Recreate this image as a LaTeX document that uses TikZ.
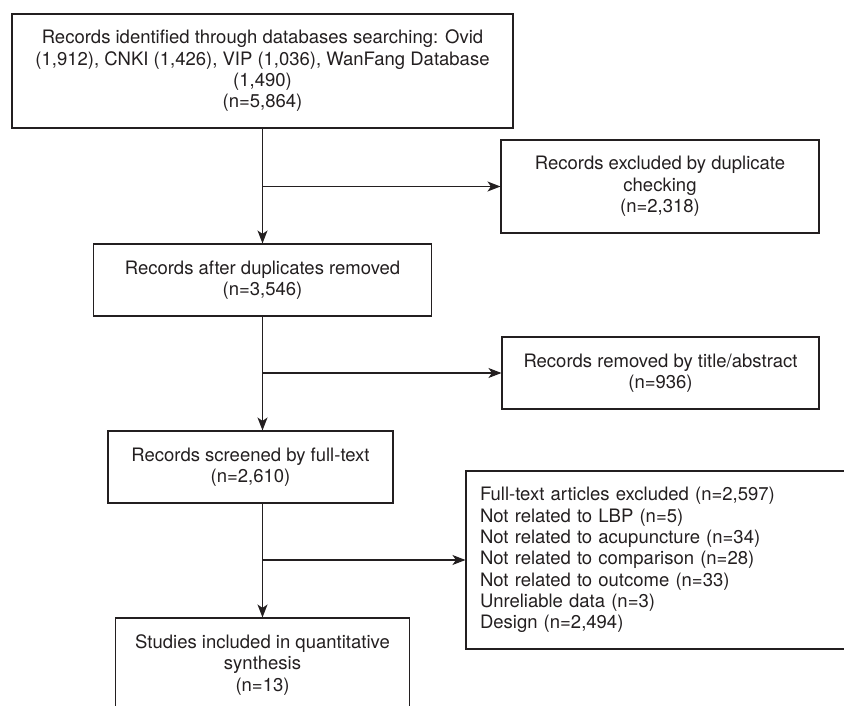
\documentclass[tikz,border=0pt]{standalone}
\usepackage{fontspec}
\setmainfont{TeX Gyre Heros}
\usetikzlibrary{arrows.meta}
\definecolor{ink}{HTML}{231F20}
\begin{document}
\begin{tikzpicture}[x=1pt,y=-1pt,
  box/.style={draw=ink,line width=1.1pt,rectangle,inner sep=0pt,align=center,
    text=ink,font=\fontsize{18.5}{21.3}\selectfont},
  arr/.style={draw=ink,line width=1.1pt,-{Stealth[length=13pt,width=10pt,inset=3.5pt]}},
  ln/.style={draw=ink,line width=1.1pt}]
\useasboundingbox (0,0) rectangle (844,706);
% boxes: center and size from pixel extents
\node[box,minimum width=501pt,minimum height=114pt] (b1) at (262.5,71)
  {Records identified through databases searching: Ovid\\(1,912), CNKI (1,426), VIP (1,036), WanFang Database\\(1,490)\\(n=5,864)};
\node[box,minimum width=318pt,minimum height=93pt] (b2) at (660,186.5)
  {Records excluded by duplicate\\checking\\(n=2,318)};
\node[box,minimum width=338pt,minimum height=72pt] (b4) at (262.5,280)
  {Records after duplicates removed\\(n=3,546)};
\node[box,minimum width=317pt,minimum height=72pt] (b3) at (660.5,373)
  {Records removed by title/abstract\\(n=936)};
\node[box,minimum width=285pt,minimum height=72pt] (b5) at (250.5,467)
  {Records screened by full-text\\(n=2,610)};
\node[box,minimum width=384pt,minimum height=178pt,align=left,text width=356pt,inner xsep=14pt] (b6) at (658,560)
  {Full-text articles excluded (n=2,597)\\Not related to LBP (n=5)\\Not related to acupuncture (n=34)\\Not related to comparison (n=28)\\Not related to outcome (n=33)\\Unreliable data (n=3)\\Design (n=2,494)};
\node[box,minimum width=294pt,minimum height=94pt] (b7) at (262.5,665)
  {Studies included in quantitative\\synthesis\\(n=13)};
% trunk
\coordinate (j1) at (b1.south |- b2.west);
\coordinate (j2) at (b1.south |- b3.west);
\coordinate (j3) at (b1.south |- b6.west);
\draw[arr] (b1.south) -- (b4.north);
\draw[arr] (j1) -- (b2.west);
\draw[arr] (b4.south) -- (b5.north -| b4.south);
\draw[arr] (j2) -- (b3.west);
\draw[ln] (b5.south -| b1.south) -- (j3);
\draw[arr] (j3) -- (b7.north);
\draw[arr] (j3) -- (b6.west);
\end{tikzpicture}
\end{document}
